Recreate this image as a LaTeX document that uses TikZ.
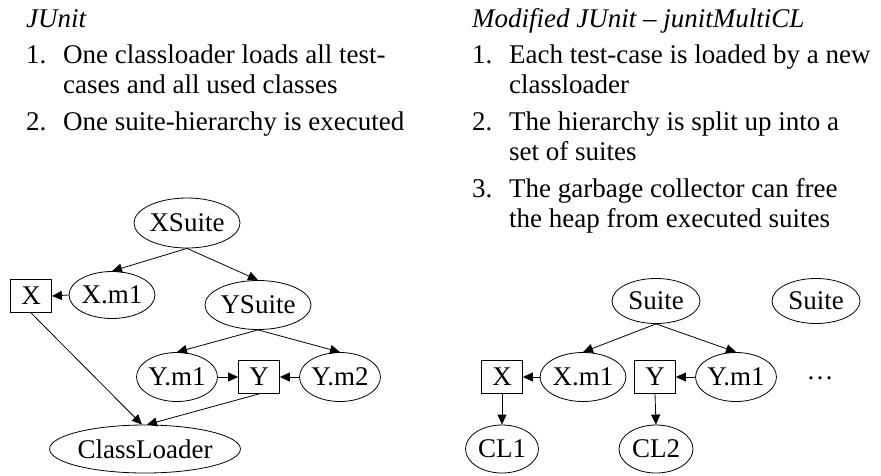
\documentclass[tikz,border=0pt]{standalone}
\usepackage{fontspec}
\setmainfont{Liberation Serif}
\usetikzlibrary{shapes.geometric,arrows.meta}
\begin{document}
\begin{tikzpicture}[x=1pt,y=-1pt,
  txt/.style={anchor=base west,inner sep=0pt,font=\fontsize{27}{31}\selectfont},
  gfont/.style={font=\fontsize{27}{30}\selectfont},
  ell/.style={draw,ellipse,inner sep=0pt,line width=0.8pt,gfont},
  box/.style={draw,rectangle,inner sep=0pt,line width=0.8pt,minimum width=41,minimum height=33,gfont},
  edge/.style={line width=0.8pt,-{Triangle[length=10pt,width=9pt]}}]
\useasboundingbox (0,0) rectangle (881,475);
% left text
\node[txt] (jt) at (26,27) {\itshape JUnit};
\node[txt] (l1n) at (26,63) {1.};
\node[txt] (l1a) at (63,63) {One classloader loads all test-};
\node[txt] (l1b) at (63,93) {cases and all used classes};
\node[txt] (l2n) at (26,130) {2.};
\node[txt] (l2a) at (63,130) {One suite-hierarchy is executed};
% right text
\node[txt] (rt) at (472,27) {\itshape Modified JUnit -- junitMultiCL};
\node[txt] (r1n) at (472,63) {1.};
\node[txt] (r1a) at (509,63) {Each test-case is loaded by a new};
\node[txt] (r1b) at (509,93) {classloader};
\node[txt] (r2n) at (472,130) {2.};
\node[txt] (r2a) at (509,130) {The hierarchy is split up into a};
\node[txt] (r2b) at (509,160) {set of suites};
\node[txt] (r3n) at (472,197) {3.};
\node[txt] (r3a) at (509,197) {The garbage collector can free};
\node[txt] (r3b) at (509,227) {the heap from executed suites};
% left graph
\node[ell,minimum width=90,minimum height=50] (xs) at (187,223) {XSuite};
\node[ell,minimum width=73,minimum height=47] (xm1) at (112,295) {X.m1};
\node[box] (x) at (31,296) {X};
\node[ell,minimum width=90,minimum height=49] (ys) at (258,305) {YSuite};
\node[ell,minimum width=73,minimum height=49] (ym1) at (177,377) {Y.m1};
\node[box] (y) at (259,377) {Y};
\node[ell,minimum width=73,minimum height=49] (ym2) at (340,377) {Y.m2};
\node[ell,minimum width=153,minimum height=48] (cl) at (145,449) {ClassLoader};
\draw[edge] (xs.south) -- (xm1.north);
\draw[edge] (xs.south) -- (ys.north);
\draw[edge] (xm1.west) -- (x.east);
\draw[edge] (x.south) -- ([xshift=-3pt]cl.north);
\draw[edge] (ys.south) -- (ym1.north);
\draw[edge] (ys.south) -- (ym2.north);
\draw[edge] (ym1.east) -- (y.west);
\draw[edge] (ym2.west) -- (y.east);
\draw[edge] (y.south) -- ([xshift=2pt]cl.north);
% right graph
\node[ell,minimum width=88,minimum height=45] (s1) at (656,301) {Suite};
\node[ell,minimum width=88,minimum height=45] (s2) at (816,301) {Suite};
\node[box] (rx) at (502,377) {X};
\node[ell,minimum width=72,minimum height=49] (rxm1) at (583,377) {X.m1};
\node[box] (ry) at (655,377) {Y};
\node[ell,minimum width=73,minimum height=49] (rym1) at (736,377) {Y.m1};
\node[gfont] (dots) at (820,378) {\dots};
\node[ell,minimum width=73,minimum height=48] (cl1) at (502,449) {CL1};
\node[ell,minimum width=74,minimum height=48] (cl2) at (656,449) {CL2};
\draw[edge] (s1.south) -- (rxm1.north);
\draw[edge] (s1.south) -- (rym1.north);
\draw[edge] (rxm1.west) -- (rx.east);
\draw[edge] (rym1.west) -- (ry.east);
\draw[edge] (rx.south) -- (cl1.north);
\draw[edge] (ry.south) -- (cl2.north);
\end{tikzpicture}
\end{document}
